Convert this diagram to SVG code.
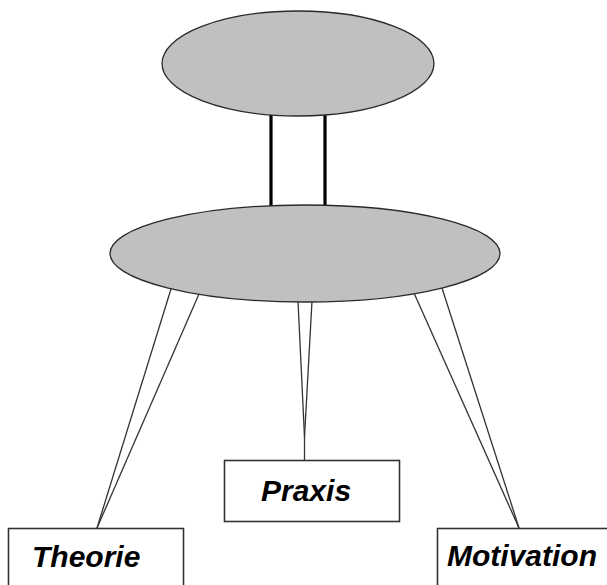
<svg xmlns="http://www.w3.org/2000/svg" width="607" height="585" viewBox="0 0 607 585">
<style>
.ell{fill:#c0c0c0;stroke:#2a2a2a;stroke-width:1.3}
.box{fill:#ffffff;stroke:#333333;stroke-width:1.6}
.leg{stroke:#333333;stroke-width:1.3;fill:none}
.post{stroke:#000000;stroke-width:3.2;fill:none}
.lbl{font-family:"Liberation Sans",Arial,sans-serif;font-size:30px;font-style:italic;font-weight:bold;fill:#000000}
</style>
<rect x="0" y="0" width="607" height="585" fill="#ffffff"/>
<g id="connectors">
<line class="post" x1="271" y1="114" x2="271" y2="207"/>
<line class="post" x1="325" y1="114" x2="325" y2="207"/>
<line class="leg" x1="171" y1="289" x2="97" y2="528"/>
<line class="leg" x1="199" y1="294" x2="97" y2="528"/>
<line class="leg" x1="298" y1="301" x2="304.5" y2="437"/>
<line class="leg" x1="312" y1="301" x2="304.5" y2="437"/>
<line class="leg" x1="304.5" y1="437" x2="304.5" y2="460"/>
<line class="leg" x1="414" y1="293" x2="519" y2="528"/>
<line class="leg" x1="442" y1="288" x2="519" y2="528"/>
</g>
<g id="top-ellipse">
<ellipse class="ell" cx="298" cy="63.5" rx="136" ry="52.5"/>
</g>
<g id="bottom-ellipse">
<ellipse class="ell" cx="305" cy="253.5" rx="195" ry="48.5"/>
</g>
<g id="praxis">
<rect class="box" x="224.5" y="460.5" width="175" height="61"/>
<text class="lbl" x="261" y="501">Praxis</text>
</g>
<g id="theorie">
<rect class="box" x="8.5" y="528.5" width="175" height="61"/>
<text class="lbl" x="32" y="567">Theorie</text>
</g>
<g id="motivation">
<rect class="box" x="437.5" y="528.5" width="175" height="61"/>
<text class="lbl" x="447" y="566">Motivation</text>
</g>
</svg>
